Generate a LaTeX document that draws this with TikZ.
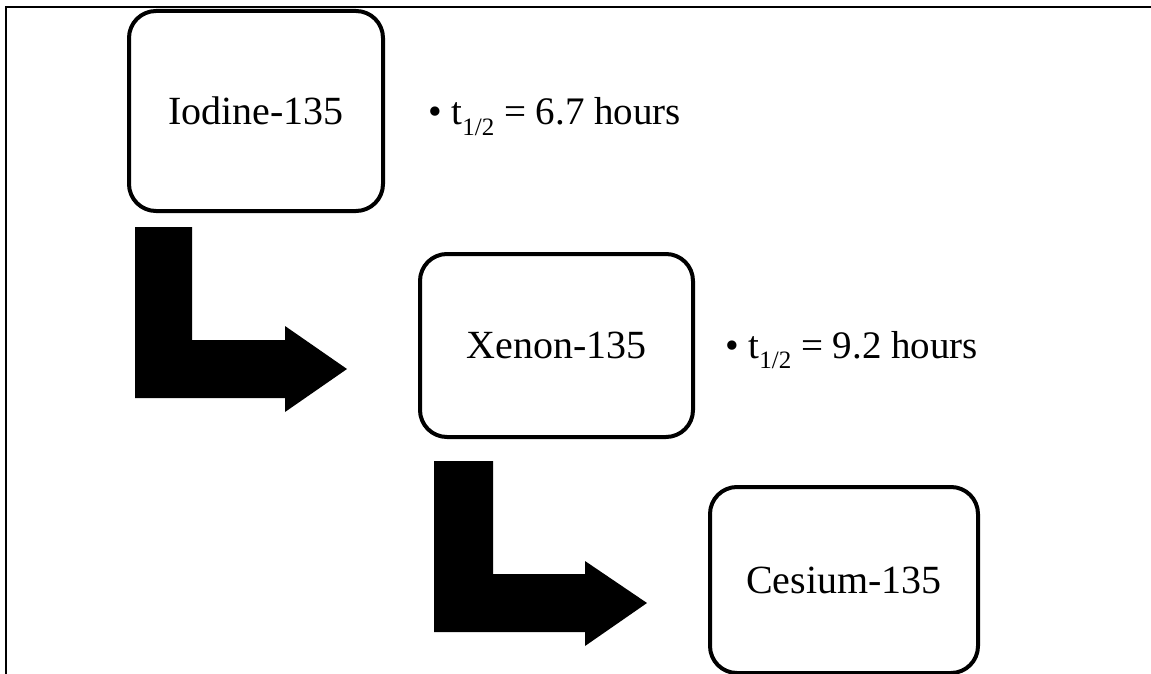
\documentclass[tikz,border=0pt]{standalone}
\usepackage{fontspec}
\setmainfont{Liberation Serif}
\begin{document}
\begin{tikzpicture}[x=1pt,y=-1pt,
  decaybox/.style={draw=black, line width=4pt, rounded corners=27pt, fill=white,
    inner sep=0pt, font=\fontsize{40}{48}\selectfont},
  halflife/.style={anchor=base west, inner sep=0pt, font=\fontsize{39}{46}\selectfont},
  blockarrow/.style={fill=black, draw=none},
  frameline/.style={draw=black, line width=2pt}]
\useasboundingbox (0,0) rectangle (1151,674);
% frame (top and left edges)
\coordinate (fa) at (6,674);
\coordinate (fb) at (6,7);
\coordinate (fc) at (1151,7);
\draw[frameline] (fa) -- (fb) -- (fc);
% nodes
\node[decaybox, minimum width=254pt, minimum height=200pt] (iodine) at (256,111) {Iodine-135};
\node[decaybox, minimum width=273pt, minimum height=183pt] (xenon) at (556.5,345.5) {Xenon-135};
\node[decaybox, minimum width=268pt, minimum height=186pt] (cesium) at (844,580) {Cesium-135};
% half-life labels
\node[halflife] (hl1) at (428,125) {\textbullet\ t\raisebox{-0.28em}{\fontsize{25}{30}\selectfont 1/2} = 6.7 hours};
\node[halflife] (hl2) at (725,358) {\textbullet\ t\raisebox{-0.28em}{\fontsize{25}{30}\selectfont 1/2} = 9.2 hours};
% block arrows
\fill[blockarrow] (135,227) -- (192,227) -- (192,340) -- (285,340) -- (285,326) -- (347,369)
  -- (285,412) -- (285,398) -- (135,398) -- cycle;
\fill[blockarrow] (434,461) -- (493,461) -- (493,574) -- (585,574) -- (585,561) -- (647,603)
  -- (585,646) -- (585,632) -- (434,632) -- cycle;
\end{tikzpicture}
\end{document}
